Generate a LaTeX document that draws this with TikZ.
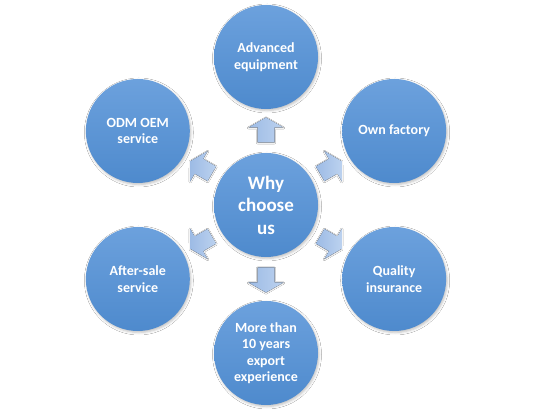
\documentclass[tikz,border=0pt]{standalone}
\usepackage{fontspec}
\setmainfont{Carlito}
\usetikzlibrary{shadows.blur}
\definecolor{circtop}{HTML}{6CA1DD}
\definecolor{circbot}{HTML}{4E8ACD}
\definecolor{arrtop}{HTML}{BCD2EF}
\definecolor{arrbot}{HTML}{9DBBE5}
\tikzset{
  bubble/.style={circle, minimum size=104pt, inner sep=0pt, align=center,
    text=white, font=\fontsize{14}{16.5}\selectfont\bfseries,
    top color=circtop, bottom color=circbot, draw=none,
    blur shadow={shadow xshift=1pt, shadow yshift=-1.5pt, shadow blur radius=2.5pt, shadow opacity=25}},
  hub/.style={bubble, font=\fontsize{19}{22.5}\selectfont\bfseries},
  blockarrow/.pic={
    \fill[left color=arrbot, right color=arrtop,
      blur shadow={shadow xshift=0pt, shadow yshift=-0.5pt, shadow blur radius=1.2pt, shadow opacity=20}]
      (-12.5,-8.5) -- (2.5,-8.5) -- (2.5,-17.5) -- (12.5,0) -- (2.5,17.5) -- (2.5,8.5) -- (-12.5,8.5) -- cycle;
  }
}
\begin{document}
\begin{tikzpicture}[x=1pt,y=1pt]
\useasboundingbox (0,0) rectangle (533,412);
\fill[white] (0,0) rectangle (533,412);
\coordinate (C) at (266,207);
% arrows
\pic[rotate=90]   (a1) at ([shift={(90:75)}]C)   {blockarrow};
\pic[rotate=30]   (a2) at ([shift={(30:75)}]C)   {blockarrow};
\pic[rotate=-30]  (a3) at ([shift={(-30:75)}]C)  {blockarrow};
\pic[rotate=-90]  (a4) at ([shift={(-90:75)}]C)  {blockarrow};
\pic[rotate=-150] (a5) at ([shift={(-150:75)}]C) {blockarrow};
\pic[rotate=150]  (a6) at ([shift={(150:75)}]C)  {blockarrow};
% circles
\node[hub] (hub) at (C) {Why\\choose\\us};
\node[bubble] (n1) at ([shift={(90:148)}]C)   {Advanced\\equipment};
\node[bubble] (n2) at ([shift={(30:148)}]C)   {Own factory};
\node[bubble] (n3) at ([shift={(-30:148)}]C)  {Quality\\insurance};
\node[bubble] (n4) at ([shift={(-90:148)}]C)  {More than\\10 years\\export\\experience};
\node[bubble] (n5) at ([shift={(-150:148)}]C) {After-sale\\service};
\node[bubble] (n6) at ([shift={(150:148)}]C)  {ODM OEM\\service};
\end{tikzpicture}
\end{document}
